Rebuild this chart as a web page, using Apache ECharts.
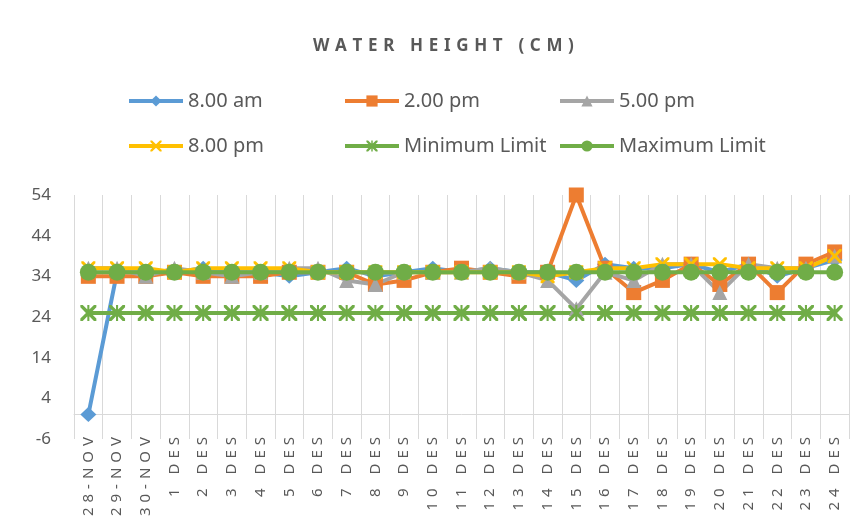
<!DOCTYPE html>
<html>
<head>
<meta charset="utf-8">
<script src="https://cdn.jsdelivr.net/npm/echarts@6/dist/echarts.min.js"></script>
<style>
  html, body { margin: 0; padding: 0; background: #fff; }
  #main { width: 865px; height: 527px; }
</style>
</head>
<body>
<div id="main"></div>
<script>
// categories (dates)
const days = ['28-NOV', '29-NOV', '30-NOV', '1 DES', '2 DES', '3 DES', '4 DES', '5 DES', '6 DES',
	'7 DES', '8 DES', '9 DES', '10 DES', '11 DES', '12 DES', '13 DES', '14 DES', '15 DES',
	'16 DES', '17 DES', '18 DES', '19 DES', '20 DES', '21 DES', '22 DES', '23 DES', '24 DES'];

// water height readings (cm)
const am8 = [0, 35, 35, 35, 36, 35, 35, 34, 35, 36, 34, 35, 36, 35, 36, 35, 35, 33, 37, 36, 36, 37, 35, 37, 34, 36, 38];
const pm2 = [34, 34, 34, 35, 34, 34, 34, 35, 35, 35, 32, 33, 35, 36, 35, 34, 35, 54, 36, 30, 33, 37, 32, 37, 30, 37, 40];
const pm5 = [36, 36, 34, 36, 35, 34, 35, 36, 36, 33, 32, 35, 35, 35, 36, 35, 33, 26, 35, 33, 37, 37, 30, 37, 36, 36, 39];
const pm8 = [36, 36, 36, 35, 36, 36, 36, 36, 35, 35, 35, 35, 35, 35, 35, 35, 34, 35, 36, 36, 37, 37, 37, 36, 36, 36, 39];
const minLimit = [25, 25, 25, 25, 25, 25, 25, 25, 25, 25, 25, 25, 25, 25, 25, 25, 25, 25, 25, 25, 25, 25, 25, 25, 25, 25, 25];
const maxLimit = [35, 35, 35, 35, 35, 35, 35, 35, 35, 35, 35, 35, 35, 35, 35, 35, 35, 35, 35, 35, 35, 35, 35, 35, 35, 35, 35];

const titleText = 'WATER HEIGHT (CM)';

// spread letters like the excel char spacing
const spread = (s, gap) => s.split('').join(gap);

const xMark = 'path://M0,0L3,0L10,7L17,0L20,0L20,3L13,10L20,17L20,20L17,20L10,13L3,20L0,20L0,17L7,10L0,3Z';
const starMark = 'path://M0,0L3,0L10,7L17,0L20,0L20,3L13,10L20,17L20,20L17,20L10,13L3,20L0,20L0,17L7,10L0,3Z M8.7,0L11.3,0L11.3,20L8.7,20Z';

const txt = '#595959';
const font = '"Noto Sans", "DejaVu Sans", sans-serif';

let chart = echarts.init(document.getElementById('main'));

const legendBase = {
	orient: 'vertical',
	top: 91,
	padding: 0,
	itemWidth: 54,
	itemHeight: 14,
	itemGap: 25,
	lineStyle: { width: 4 },
	textStyle: { color: txt, fontSize: 20, lineHeight: 20, fontFamily: font }
};

let option = {
	animation: false,
	backgroundColor: '#fff',
	title: {
		text: spread(titleText, '\u2004'),
		left: 313,
		top: 38,
		padding: 0,
		textStyle: { color: txt, fontSize: 17, fontWeight: 'bold', fontFamily: font }
	},
	legend: [
		Object.assign({}, legendBase, { left: 127, data: ['8.00 am', '8.00 pm'] }),
		Object.assign({}, legendBase, { left: 343, data: ['2.00 pm', 'Minimum Limit'] }),
		Object.assign({}, legendBase, { left: 558, data: ['5.00 pm', 'Maximum Limit'] })
	],
	grid: { left: 74, right: 16, top: 195, bottom: 88, containLabel: false, outerBoundsMode: 'none' },
	xAxis: {
		type: 'category',
		data: days,
		boundaryGap: true,
		axisLine: { onZero: true, lineStyle: { color: '#d9d9d9', width: 1 } },
		axisTick: { show: false },
		splitLine: { show: true, lineStyle: { color: '#d9d9d9', width: 1 } },
		axisLabel: {
			interval: 0,
			rotate: 90,
			margin: -2,
			color: txt,
			fontSize: 15,
			fontFamily: font,
			formatter: (v) => spread(v, '\u2004')
		}
	},
	yAxis: {
		type: 'value',
		min: -6,
		max: 54,
		interval: 10,
		axisLine: { show: false },
		axisTick: { show: false },
		splitLine: { show: false },
		axisLabel: { color: txt, fontSize: 17, fontFamily: font, margin: 23 }
	},
	series: [
		{
			name: '8.00 am', type: 'line', data: am8,
			symbol: 'diamond', symbolSize: [16, 15],
			lineStyle: { width: 4, color: '#5B9BD5' },
			itemStyle: { color: '#5B9BD5' }
		},
		{
			name: '2.00 pm', type: 'line', data: pm2,
			symbol: 'rect', symbolSize: 15,
			lineStyle: { width: 4, color: '#ED7D31' },
			itemStyle: { color: '#ED7D31' }
		},
		{
			name: '5.00 pm', type: 'line', data: pm5,
			symbol: 'triangle', symbolSize: 15,
			lineStyle: { width: 4, color: '#A5A5A5' },
			itemStyle: { color: '#A5A5A5' }
		},
		{
			name: '8.00 pm', type: 'line', data: pm8,
			symbol: xMark, symbolSize: 14,
			lineStyle: { width: 4, color: '#FFC000' },
			itemStyle: { color: '#FFC000' }
		},
		{
			name: 'Minimum Limit', type: 'line', data: minLimit,
			symbol: starMark, symbolSize: 16,
			lineStyle: { width: 4, color: '#70AD47' },
			itemStyle: { color: '#70AD47' }
		},
		{
			name: 'Maximum Limit', type: 'line', data: maxLimit,
			symbol: 'circle', symbolSize: 17,
			lineStyle: { width: 4, color: '#70AD47' },
			itemStyle: { color: '#70AD47' }
		}
	]
};

chart.setOption(option);
</script>
</body>
</html>
